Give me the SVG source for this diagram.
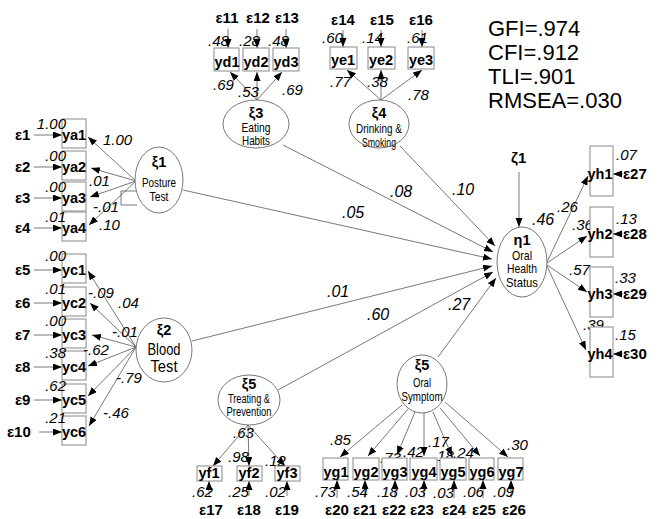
<svg xmlns="http://www.w3.org/2000/svg" width="666" height="519" viewBox="0 0 666 519">
<style>
text{font-family:"Liberation Sans",Arial,sans-serif;fill:#000}
.b{font-weight:bold;font-size:14.5px}
.e{font-weight:bold;font-size:15px}
.v{font-style:italic;font-size:15px}
.p{font-style:italic;font-size:16px}
.lat{font-size:13px}
.fit{font-size:22px}
.box{fill:#fff;stroke:#888;stroke-width:1}
.el{fill:#fff;stroke:#777;stroke-width:1}
.c line,.c path{stroke:#555;stroke-width:0.8;fill:none}
.a{marker-end:url(#ah)}
</style>
<defs>
<marker id="ah" markerUnits="userSpaceOnUse" markerWidth="10" markerHeight="8" refX="9" refY="3.5" orient="auto">
<path d="M0,0 L9,3.5 L0,7 z" fill="#000"/>
</marker>
</defs>
<rect width="666" height="519" fill="#fff"/>

<g id="fit">
<text class="fit" x="488" y="36">GFI=.974</text>
<text class="fit" x="488" y="60">CFI=.912</text>
<text class="fit" x="488" y="84">TLI=.901</text>
<text class="fit" x="488" y="108">RMSEA=.030</text>
</g>

<g id="connectors" class="c">
<line class="a" x1="34" y1="135" x2="62" y2="135"/>
<line class="a" x1="34" y1="167" x2="62" y2="167"/>
<line class="a" x1="34" y1="198" x2="62" y2="198"/>
<line class="a" x1="34" y1="228" x2="62" y2="228"/>
<line class="a" x1="34" y1="270" x2="62" y2="270"/>
<line class="a" x1="34" y1="303" x2="62" y2="303"/>
<line class="a" x1="34" y1="335" x2="62" y2="335"/>
<line class="a" x1="34" y1="367" x2="62" y2="367"/>
<line class="a" x1="34" y1="400" x2="62" y2="400"/>
<line class="a" x1="39" y1="432" x2="62" y2="432"/>
<line class="a" x1="136" y1="181" x2="88" y2="137"/>
<line class="a" x1="136" y1="181" x2="91" y2="168"/>
<line class="a" x1="136" y1="181" x2="90" y2="197"/>
<line class="a" x1="136" y1="181" x2="89" y2="225"/>
<path d="M137,191 H121 V205 H137"/>
<line class="a" x1="136" y1="347" x2="88" y2="271"/>
<line class="a" x1="136" y1="347" x2="90" y2="303"/>
<line class="a" x1="136" y1="347" x2="92" y2="335"/>
<line class="a" x1="136" y1="347" x2="88" y2="366"/>
<line class="a" x1="136" y1="347" x2="88" y2="396"/>
<line class="a" x1="136" y1="347" x2="89" y2="426"/>
<line class="a" x1="228" y1="29" x2="228" y2="48"/>
<line class="a" x1="257" y1="29" x2="257" y2="48"/>
<line class="a" x1="286" y1="29" x2="286" y2="48"/>
<line class="a" x1="343" y1="30" x2="343" y2="47"/>
<line class="a" x1="381" y1="30" x2="381" y2="47"/>
<line class="a" x1="422" y1="30" x2="422" y2="47"/>
<line class="a" x1="257" y1="100" x2="230" y2="72"/>
<line class="a" x1="257" y1="100" x2="257" y2="72"/>
<line class="a" x1="257" y1="100" x2="282" y2="72"/>
<line class="a" x1="381" y1="100" x2="347" y2="70"/>
<line class="a" x1="381" y1="100" x2="381" y2="70"/>
<line class="a" x1="381" y1="100" x2="422" y2="70"/>
<line class="a" x1="283" y1="145" x2="493" y2="252"/>
<line class="a" x1="400" y1="146" x2="495" y2="246"/>
<line class="a" x1="183" y1="190" x2="492" y2="259"/>
<line class="a" x1="192" y1="341" x2="492" y2="266"/>
<line class="a" x1="278" y1="390" x2="493" y2="272"/>
<line class="a" x1="438" y1="357" x2="496" y2="278"/>
<line class="a" x1="519" y1="172" x2="519" y2="227"/>
<line class="a" x1="547" y1="262" x2="588" y2="176"/>
<line class="a" x1="547" y1="263" x2="587" y2="236"/>
<line class="a" x1="547" y1="265" x2="587" y2="292"/>
<line class="a" x1="547" y1="266" x2="586" y2="350"/>
<line class="a" x1="623" y1="174" x2="613" y2="174"/>
<line class="a" x1="623" y1="234" x2="613" y2="234"/>
<line class="a" x1="623" y1="294" x2="613" y2="294"/>
<line class="a" x1="623" y1="354" x2="613" y2="354"/>
<line class="a" x1="248" y1="425" x2="213" y2="466"/>
<line class="a" x1="248" y1="425" x2="249" y2="466"/>
<line class="a" x1="248" y1="425" x2="285" y2="466"/>
<line class="a" x1="209" y1="496" x2="209" y2="481"/>
<line class="a" x1="249" y1="496" x2="249" y2="481"/>
<line class="a" x1="287" y1="496" x2="287" y2="481"/>
<line class="a" x1="402" y1="405" x2="340" y2="457"/>
<line class="a" x1="408" y1="409" x2="368" y2="456"/>
<line class="a" x1="415" y1="412" x2="397" y2="455"/>
<line class="a" x1="424" y1="413" x2="424" y2="456"/>
<line class="a" x1="433" y1="412" x2="452" y2="456"/>
<line class="a" x1="440" y1="408" x2="480" y2="456"/>
<line class="a" x1="445" y1="402" x2="508" y2="457"/>
<line class="a" x1="337" y1="498" x2="337" y2="480"/>
<line class="a" x1="365" y1="498" x2="365" y2="480"/>
<line class="a" x1="395" y1="498" x2="395" y2="480"/>
<line class="a" x1="424" y1="498" x2="424" y2="480"/>
<line class="a" x1="454" y1="498" x2="454" y2="480"/>
<line class="a" x1="483" y1="498" x2="483" y2="480"/>
<line class="a" x1="511" y1="498" x2="511" y2="480"/>
</g>

<g id="ya1"><rect class="box" x="62" y="119" width="24" height="29"/><text class="b" x="74" y="140" text-anchor="middle">ya1</text><text class="e" x="15" y="140">ε1</text><text class="v" x="66" y="129" text-anchor="end">1.00</text></g>
<g id="ya2"><rect class="box" x="62" y="151" width="24" height="29"/><text class="b" x="74" y="172" text-anchor="middle">ya2</text><text class="e" x="15" y="172">ε2</text><text class="v" x="66" y="161" text-anchor="end">.00</text></g>
<g id="ya3"><rect class="box" x="62" y="182" width="24" height="29"/><text class="b" x="74" y="203" text-anchor="middle">ya3</text><text class="e" x="15" y="203">ε3</text><text class="v" x="66" y="192" text-anchor="end">.00</text></g>
<g id="ya4"><rect class="box" x="62" y="212" width="24" height="29"/><text class="b" x="74" y="233" text-anchor="middle">ya4</text><text class="e" x="15" y="233">ε4</text><text class="v" x="66" y="222" text-anchor="end">.01</text></g>
<g id="yc1"><rect class="box" x="62" y="254" width="24" height="29"/><text class="b" x="74" y="275" text-anchor="middle">yc1</text><text class="e" x="15" y="275">ε5</text><text class="v" x="66" y="261" text-anchor="end">.00</text></g>
<g id="yc2"><rect class="box" x="62" y="287" width="24" height="29"/><text class="b" x="74" y="308" text-anchor="middle">yc2</text><text class="e" x="15" y="308">ε6</text><text class="v" x="66" y="294" text-anchor="end">.01</text></g>
<g id="yc3"><rect class="box" x="62" y="319" width="24" height="29"/><text class="b" x="74" y="340" text-anchor="middle">yc3</text><text class="e" x="15" y="340">ε7</text><text class="v" x="66" y="326" text-anchor="end">.00</text></g>
<g id="yc4"><rect class="box" x="62" y="351" width="24" height="29"/><text class="b" x="74" y="372" text-anchor="middle">yc4</text><text class="e" x="15" y="372">ε8</text><text class="v" x="66" y="358" text-anchor="end">.38</text></g>
<g id="yc5"><rect class="box" x="62" y="384" width="24" height="29"/><text class="b" x="74" y="405" text-anchor="middle">yc5</text><text class="e" x="15" y="405">ε9</text><text class="v" x="66" y="391" text-anchor="end">.62</text></g>
<g id="yc6"><rect class="box" x="62" y="416" width="24" height="29"/><text class="b" x="74" y="437" text-anchor="middle">yc6</text><text class="e" x="7" y="437">ε10</text><text class="v" x="66" y="423" text-anchor="end">.21</text></g>

<g id="xi1"><ellipse class="el" cx="159" cy="180" rx="24" ry="33"/>
<text class="b" x="159" y="167" text-anchor="middle" font-size="15">ξ1</text>
<text class="lat" x="159" y="187" text-anchor="middle" textLength="34" lengthAdjust="spacingAndGlyphs">Posture</text>
<text class="lat" x="159" y="201" text-anchor="middle" textLength="19" lengthAdjust="spacingAndGlyphs">Test</text>
<text class="v" x="103" y="145">1.00</text><text class="v" x="89" y="186">.01</text><text class="v" x="93" y="212">-.01</text><text class="v" x="99" y="230">.10</text></g>

<g id="xi2"><ellipse class="el" cx="164" cy="350" rx="28" ry="32"/>
<text class="b" x="164" y="335" text-anchor="middle" font-size="15">ξ2</text>
<text x="164" y="355" text-anchor="middle" font-size="17" textLength="33" lengthAdjust="spacingAndGlyphs">Blood</text>
<text x="164" y="372" text-anchor="middle" font-size="17" textLength="27" lengthAdjust="spacingAndGlyphs">Test</text>
<text class="v" x="88" y="298">-.09</text><text class="v" x="118" y="308">.04</text><text class="v" x="112" y="337">-.01</text><text class="v" x="83" y="355">-.62</text><text class="v" x="116" y="383">-.79</text><text class="v" x="103" y="418">-.46</text></g>

<g id="yd"><rect class="box" x="214" y="48" width="25" height="23"/><rect class="box" x="243" y="48" width="26" height="23"/><rect class="box" x="273" y="48" width="26" height="23"/>
<text class="b" x="227" y="67" text-anchor="middle">yd1</text><text class="b" x="256" y="67" text-anchor="middle">yd2</text><text class="b" x="286" y="67" text-anchor="middle">yd3</text>
<text class="e" x="227" y="23" text-anchor="middle">ε11</text><text class="e" x="258" y="23" text-anchor="middle">ε12</text><text class="e" x="287" y="23" text-anchor="middle">ε13</text>
<text class="v" x="208" y="46">.48</text><text class="v" x="239" y="46">.28</text><text class="v" x="268" y="46">.48</text></g>
<g id="xi3"><ellipse class="el" cx="256" cy="124" rx="33" ry="24"/>
<text class="b" x="256" y="118" text-anchor="middle" font-size="15">ξ3</text>
<text class="lat" x="256" y="132" text-anchor="middle" textLength="29" lengthAdjust="spacingAndGlyphs">Eating</text>
<text class="lat" x="256" y="145" text-anchor="middle" textLength="28" lengthAdjust="spacingAndGlyphs">Habits</text>
<text class="v" x="213" y="90">.69</text><text class="v" x="238" y="97">.53</text><text class="v" x="282" y="95">.69</text></g>

<g id="ye"><rect class="box" x="330" y="47" width="27" height="22"/><rect class="box" x="368" y="47" width="27" height="22"/><rect class="box" x="408" y="47" width="26" height="22"/>
<text class="b" x="343" y="65" text-anchor="middle">ye1</text><text class="b" x="381" y="65" text-anchor="middle">ye2</text><text class="b" x="421" y="65" text-anchor="middle">ye3</text>
<text class="e" x="343" y="25" text-anchor="middle">ε14</text><text class="e" x="382" y="25" text-anchor="middle">ε15</text><text class="e" x="421" y="25" text-anchor="middle">ε16</text>
<text class="v" x="322" y="43">.60</text><text class="v" x="362" y="43">.14</text><text class="v" x="407" y="43">.61</text></g>
<g id="xi4"><ellipse class="el" cx="379" cy="124" rx="30" ry="24"/>
<text class="b" x="379" y="118" text-anchor="middle" font-size="15">ξ4</text>
<text x="379" y="133" text-anchor="middle" font-size="12" textLength="46" lengthAdjust="spacingAndGlyphs">Drinking &amp;</text>
<text x="379" y="147" text-anchor="middle" font-size="12" textLength="34" lengthAdjust="spacingAndGlyphs">Smoking</text>
<text class="v" x="330" y="87">.77</text><text class="v" x="367" y="87">.38</text><text class="v" x="408" y="100">.78</text></g>

<g id="paths-labels">
<text class="p" x="390" y="197">.08</text>
<text class="p" x="452" y="195">.10</text>
<text class="p" x="342" y="218">.05</text>
<text class="p" x="327" y="297">.01</text>
<text class="p" x="367" y="320">.60</text>
<text class="p" x="448" y="310">.27</text>
</g>

<g id="eta1"><ellipse class="el" cx="522" cy="262" rx="25" ry="35"/>
<text class="b" x="522" y="245" text-anchor="middle" font-size="15">η1</text>
<text class="lat" x="522" y="260" text-anchor="middle" textLength="20" lengthAdjust="spacingAndGlyphs">Oral</text>
<text class="lat" x="522" y="273" text-anchor="middle" textLength="30" lengthAdjust="spacingAndGlyphs">Health</text>
<text class="lat" x="522" y="287" text-anchor="middle" textLength="32" lengthAdjust="spacingAndGlyphs">Status</text>
<text class="e" x="511" y="163">ζ1</text>
<text class="p" x="532" y="225">.46</text>
<text class="v" x="557" y="212">.26</text><text class="v" x="572" y="230">.36</text><text class="v" x="569" y="275">.57</text><text class="v" x="583" y="330">.39</text></g>

<g id="yh1"><rect class="box" x="590" y="146" width="23" height="50"/><text class="b" x="600" y="179" text-anchor="middle">yh1</text><text class="v" x="616" y="160">.07</text><text class="e" x="623" y="179">ε27</text></g>
<g id="yh2"><rect class="box" x="590" y="207" width="23" height="50"/><text class="b" x="600" y="239" text-anchor="middle">yh2</text><text class="v" x="616" y="224">.13</text><text class="e" x="623" y="239">ε28</text></g>
<g id="yh3"><rect class="box" x="590" y="267" width="23" height="50"/><text class="b" x="600" y="299" text-anchor="middle">yh3</text><text class="v" x="615" y="283">.33</text><text class="e" x="623" y="299">ε29</text></g>
<g id="yh4"><rect class="box" x="590" y="327" width="23" height="50"/><text class="b" x="600" y="359" text-anchor="middle">yh4</text><text class="v" x="615" y="340">.15</text><text class="e" x="623" y="359">ε30</text></g>

<g id="xi5a"><ellipse class="el" cx="249" cy="400" rx="31" ry="25"/>
<text class="b" x="249" y="389" text-anchor="middle" font-size="15">ξ5</text>
<text x="249" y="403" text-anchor="middle" font-size="12" textLength="42" lengthAdjust="spacingAndGlyphs">Treating &amp;</text>
<text x="249" y="416" text-anchor="middle" font-size="12" textLength="45" lengthAdjust="spacingAndGlyphs">Prevention</text>
<text class="v" x="233" y="438">.63</text><text class="v" x="228" y="462">.98</text><text class="v" x="265" y="466">.12</text></g>
<g id="yf"><rect class="box" x="197" y="466" width="25" height="15"/><rect class="box" x="237" y="466" width="25" height="15"/><rect class="box" x="275" y="466" width="25" height="15"/>
<text class="b" x="209" y="478" text-anchor="middle">yf1</text><text class="b" x="249" y="478" text-anchor="middle">yf2</text><text class="b" x="287" y="478" text-anchor="middle">yf3</text>
<text class="v" x="192" y="497">.62</text><text class="v" x="228" y="497">.25</text><text class="v" x="265" y="497">.02</text>
<text class="e" x="211" y="515" text-anchor="middle">ε17</text><text class="e" x="249" y="515" text-anchor="middle">ε18</text><text class="e" x="287" y="515" text-anchor="middle">ε19</text></g>

<g id="xi5b"><ellipse class="el" cx="422" cy="384" rx="25" ry="29"/>
<text class="b" x="422" y="370" text-anchor="middle" font-size="15">ξ5</text>
<text class="lat" x="422" y="387" text-anchor="middle" textLength="18" lengthAdjust="spacingAndGlyphs">Oral</text>
<text x="422" y="401" text-anchor="middle" font-size="12" textLength="41" lengthAdjust="spacingAndGlyphs">Symptom</text>
<text class="v" x="330" y="445">.85</text><text class="v" x="380" y="463">.73</text><text class="v" x="403" y="457">.42</text><text class="v" x="428" y="447">.17</text><text class="v" x="433" y="461">.18</text><text class="v" x="453" y="458">.24</text><text class="v" x="507" y="450">.30</text></g>
<g id="yg"><rect class="box" x="323" y="458" width="25" height="22"/><rect class="box" x="353" y="458" width="26" height="22"/><rect class="box" x="382" y="458" width="25" height="22"/><rect class="box" x="410" y="458" width="27" height="22"/><rect class="box" x="440" y="458" width="26" height="22"/><rect class="box" x="469" y="458" width="25" height="22"/><rect class="box" x="498" y="458" width="25" height="22"/>
<text class="b" x="336" y="477" text-anchor="middle">yg1</text><text class="b" x="366" y="477" text-anchor="middle">yg2</text><text class="b" x="395" y="477" text-anchor="middle">yg3</text><text class="b" x="424" y="477" text-anchor="middle">yg4</text><text class="b" x="453" y="477" text-anchor="middle">yg5</text><text class="b" x="482" y="477" text-anchor="middle">yg6</text><text class="b" x="511" y="477" text-anchor="middle">yg7</text>
<text class="v" x="315" y="497">.73</text><text class="v" x="347" y="497">.54</text><text class="v" x="377" y="497">.18</text><text class="v" x="405" y="497">.03</text><text class="v" x="433" y="498">.03</text><text class="v" x="463" y="497">.06</text><text class="v" x="493" y="497">.09</text>
<text class="e" x="337" y="515" text-anchor="middle">ε20</text><text class="e" x="365" y="515" text-anchor="middle">ε21</text><text class="e" x="394" y="515" text-anchor="middle">ε22</text><text class="e" x="422" y="515" text-anchor="middle">ε23</text><text class="e" x="454" y="515" text-anchor="middle">ε24</text><text class="e" x="484" y="515" text-anchor="middle">ε25</text><text class="e" x="514" y="515" text-anchor="middle">ε26</text></g>
</svg>
